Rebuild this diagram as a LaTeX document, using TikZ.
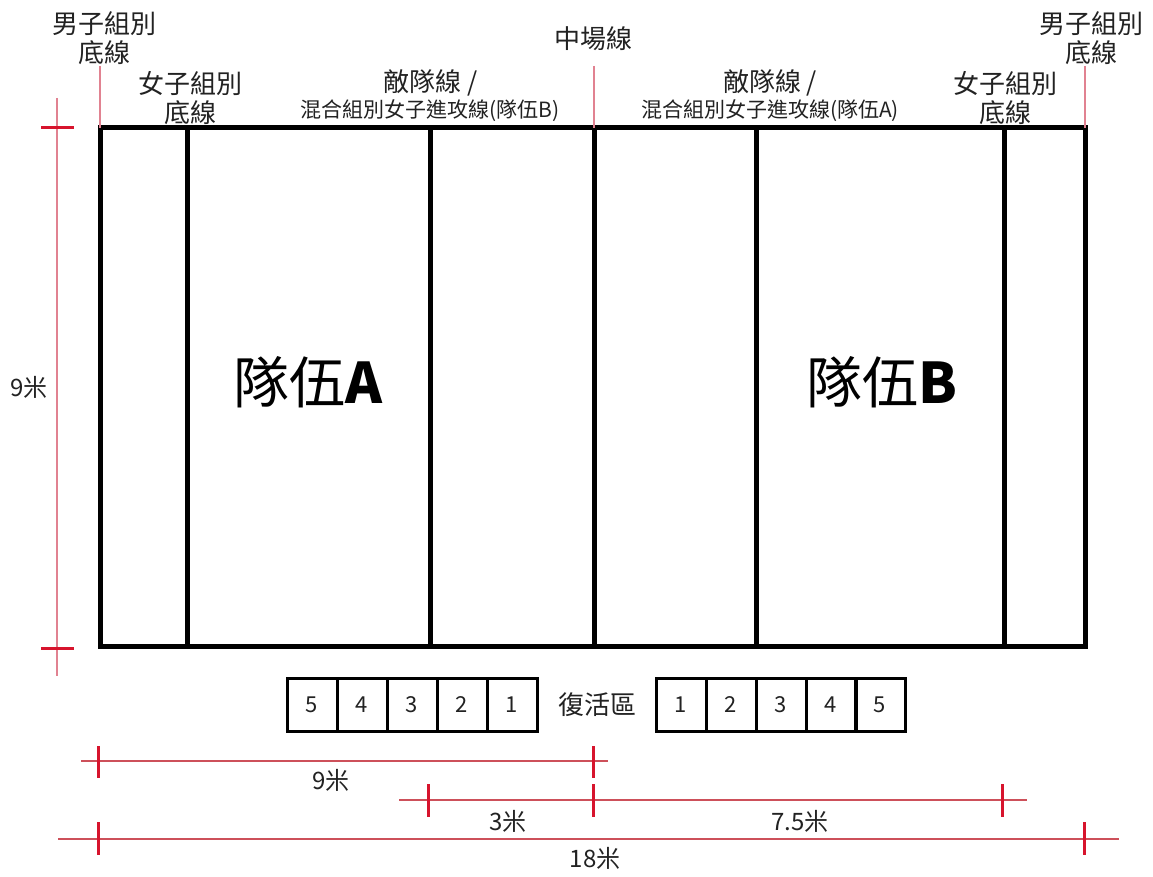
\documentclass[tikz,border=0pt]{standalone}
\usepackage{fontspec}
\setmainfont{Noto Sans CJK TC}
\definecolor{txtgray}{RGB}{34,34,34}
\definecolor{tickred}{RGB}{215,20,45}
\definecolor{dimred}{RGB}{205,80,90}
\definecolor{refpink}{RGB}{225,130,145}
\begin{document}
\begin{tikzpicture}[x=1pt,y=-1pt,
  courtline/.style={draw=black, line width=5pt},
  lbl/.style={inner sep=0pt, align=center, text=txtgray, font=\fontsize{26}{29}\selectfont},
  sublbl/.style={inner sep=0pt, align=center, text=txtgray, font=\fontsize{21}{24}\selectfont},
  dimlbl/.style={inner sep=0pt, text=txtgray, font=\fontsize{24}{26}\selectfont},
  teamlbl/.style={inner sep=0pt, text=black, font=\fontsize{56}{60}\selectfont},
  dimline/.style={draw=dimred, line width=2.2pt},
  tickmark/.style={draw=tickred, line width=3pt},
  refline/.style={draw=refpink, line width=1.6pt},
  slot/.style={draw=black, line width=3pt, minimum width=50pt, minimum height=53pt, inner sep=0pt, text=txtgray, font=\fontsize{22}{24}\selectfont}
]
\useasboundingbox[fill=white] (0,0) rectangle (1153,877);

% court outline
\node[courtline, minimum width=985pt, minimum height=518pt, inner sep=0pt] (court) at (592.5,387) {};
\foreach \x/\n in {187/wba,430/ala,594/mid,756/alb,1004/wbb}{
  \coordinate (\n t) at (\x,128);
  \coordinate (\n b) at (\x,646);
  \draw[courtline] (\n t) -- (\n b);
}

% reference lines at top
\coordinate (mla) at (100,66);  \coordinate (mlat) at (100,128);
\coordinate (mlb) at (1085,66); \coordinate (mlbt) at (1085,128);
\coordinate (mcl) at (594,66);
\draw[refline] (mla) -- (mlat);
\draw[refline] (mlb) -- (mlbt);
\draw[refline] (mcl) -- (midt);

% top labels
\node[lbl] (menL) at (104,38) {男子組別\\底線};
\node[lbl] (womL) at (190,98) {女子組別\\底線};
\node[lbl] (midL) at (593,39) {中場線};
\node[lbl] (menR) at (1091,38) {男子組別\\底線};
\node[lbl] (womR) at (1005,98) {女子組別\\底線};
\node[lbl] (attA1) at (431,83) {敵隊線 /};
\node[sublbl] (attA2) at (430,111) {混合組別女子進攻線(隊伍B)};
\node[lbl] (attB1) at (770,83) {敵隊線 /};
\node[sublbl] (attB2) at (770,111) {混合組別女子進攻線(隊伍A)};

% team labels
\node[teamlbl] (teamA) at (308,382) {隊伍\textbf{A}};
\node[teamlbl] (teamB) at (882,382) {隊伍\textbf{B}};

% left vertical dimension
\coordinate (vt) at (57,98); \coordinate (vb) at (57,676);
\draw[refline] (vt) -- (vb);
\coordinate (vt1) at (41,128); \coordinate (vt2) at (74,128);
\coordinate (vb1) at (41,648); \coordinate (vb2) at (74,648);
\draw[tickmark] (vt1) -- (vt2);
\draw[tickmark] (vb1) -- (vb2);
\node[dimlbl] (nine) at (29,387) {9米};

% revival boxes
\foreach \i/\x in {5/312,4/362,3/412,2/462,1/512}{
  \node[slot] (la\i) at (\x,705) {\i};
}
\node[lbl] (revive) at (597,705) {復活區};
\foreach \i/\x in {1/681,2/731,3/781,4/831,5/880}{
  \node[slot] (rb\i) at (\x,705) {\i};
}

% 9 m dimension
\coordinate (d1a) at (81,761); \coordinate (d1b) at (608,761);
\draw[dimline] (d1a) -- (d1b);
\foreach \x/\n in {98/ta,593/tb}{
  \coordinate (\n u) at (\x,746); \coordinate (\n d) at (\x,778);
  \draw[tickmark] (\n u) -- (\n d);
}
\node[dimlbl] (d1l) at (331,780) {9米};

% 3 m / 7.5 m dimension
\coordinate (d2a) at (399,800); \coordinate (d2b) at (1027,800);
\draw[dimline] (d2a) -- (d2b);
\foreach \x/\n in {428/tc,593/td,1002/te}{
  \coordinate (\n u) at (\x,784); \coordinate (\n d) at (\x,817);
  \draw[tickmark] (\n u) -- (\n d);
}
\node[dimlbl] (d2l) at (508,821) {3米};
\node[dimlbl] (d3l) at (800,821) {7.5米};

% 18 m dimension
\coordinate (d4a) at (58,839); \coordinate (d4b) at (1119,839);
\draw[dimline] (d4a) -- (d4b);
\foreach \x/\n in {98/tf,1084/tg}{
  \coordinate (\n u) at (\x,822); \coordinate (\n d) at (\x,855);
  \draw[tickmark] (\n u) -- (\n d);
}
\node[dimlbl] (d4l) at (595,858) {18米};
\end{tikzpicture}
\end{document}
